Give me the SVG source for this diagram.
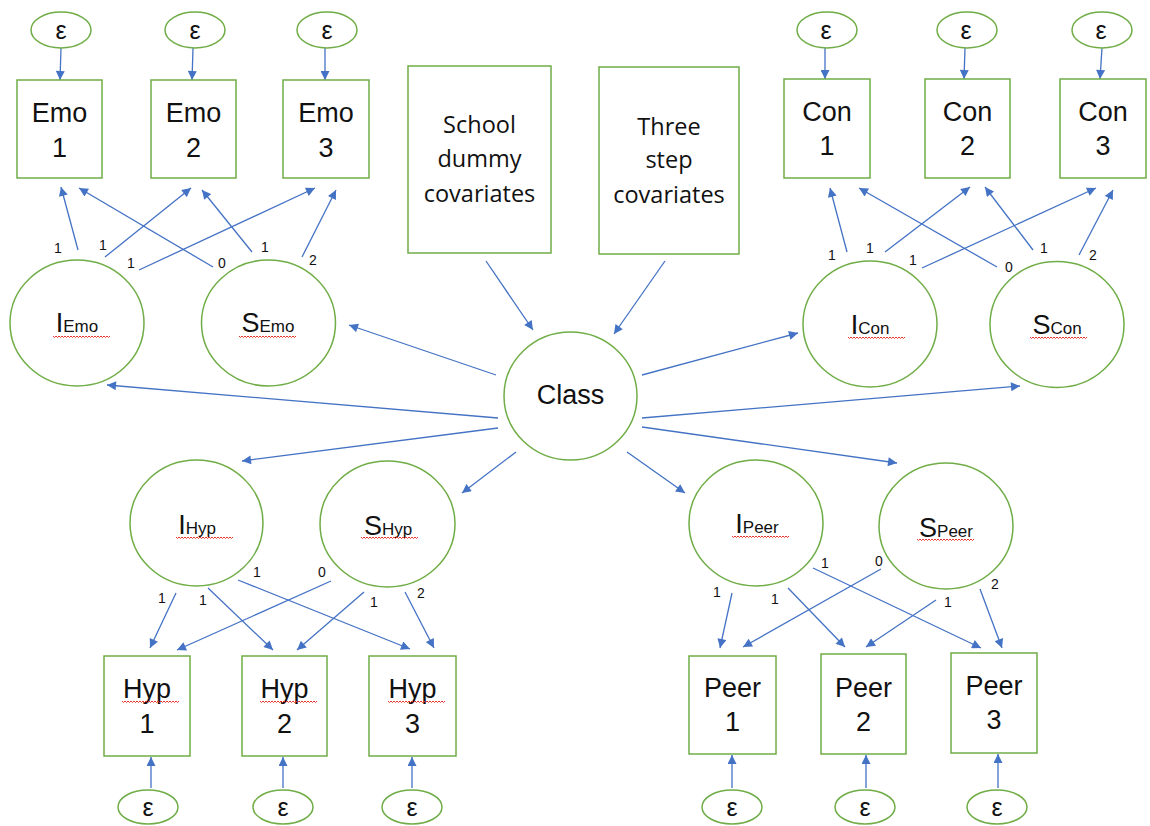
<svg xmlns="http://www.w3.org/2000/svg" width="1150" height="826" viewBox="0 0 1150 826">
<style>
.n{fill:#fff;stroke:#70AD47;stroke-width:1.5}
.c{stroke:#4472C4;stroke-width:1.3;fill:none;marker-end:url(#ah)}
.t{font-family:"Liberation Sans",Arial,sans-serif;fill:#111;text-anchor:middle}
.big{font-size:27px}
.sub{font-size:17px}
.eps{font-size:25px}
.lb{font-family:"Liberation Sans",Arial,sans-serif;font-size:14px;fill:#111;text-anchor:middle}
.cov{font-family:"Open Sans",sans-serif;font-size:23.5px;fill:#111;text-anchor:middle}
.sq{stroke:#E8342F;stroke-width:1;fill:none}
</style>
<defs>
<marker id="ah" viewBox="0 0 10 10" refX="10" refY="5" markerWidth="11" markerHeight="9" markerUnits="userSpaceOnUse" orient="auto"><path d="M0,0 L10,5 L0,10 z" fill="#4472C4"/></marker>
<path id="wv" d="M0,0 l1.5,1.5 l1.5,-1.5 l1.5,1.5 l1.5,-1.5 l1.5,1.5 l1.5,-1.5 l1.5,1.5 l1.5,-1.5 l1.5,1.5 l1.5,-1.5 l1.5,1.5 l1.5,-1.5 l1.5,1.5 l1.5,-1.5 l1.5,1.5 l1.5,-1.5 l1.5,1.5 l1.5,-1.5 l1.5,1.5 l1.5,-1.5 l1.5,1.5 l1.5,-1.5 l1.5,1.5 l1.5,-1.5 l1.5,1.5 l1.5,-1.5 l1.5,1.5 l1.5,-1.5 l1.5,1.5 l1.5,-1.5 l1.5,1.5 l1.5,-1.5 l1.5,1.5 l1.5,-1.5 l1.5,1.5 l1.5,-1.5 l1.5,1.5 l1.5,-1.5" class="sq"/>
</defs>
<rect width="1150" height="826" fill="#fff"/>

<g id="connectors">
<line class="c" x1="61" y1="48" x2="60" y2="80"/>
<line class="c" x1="193" y1="48" x2="192" y2="80"/>
<line class="c" x1="325" y1="48" x2="325" y2="80"/>
<line class="c" x1="825" y1="48" x2="825" y2="79"/>
<line class="c" x1="965" y1="48" x2="964" y2="79"/>
<line class="c" x1="1102" y1="48" x2="1100" y2="79"/>
<line class="c" x1="151" y1="788" x2="151" y2="757"/>
<line class="c" x1="283" y1="788" x2="283" y2="757"/>
<line class="c" x1="412" y1="788" x2="412" y2="757"/>
<line class="c" x1="732" y1="788" x2="732" y2="755"/>
<line class="c" x1="866" y1="788" x2="866" y2="755"/>
<line class="c" x1="998" y1="788" x2="998" y2="754"/>
<line class="c" x1="78" y1="250" x2="61" y2="187"/>
<line class="c" x1="213" y1="267" x2="79" y2="188"/>
<line class="c" x1="105" y1="257" x2="191" y2="188"/>
<line class="c" x1="252" y1="252" x2="202" y2="190"/>
<line class="c" x1="139" y1="270" x2="315" y2="188"/>
<line class="c" x1="302" y1="257" x2="336" y2="190"/>
<line class="c" x1="847" y1="252" x2="830" y2="188"/>
<line class="c" x1="997" y1="267" x2="859" y2="188"/>
<line class="c" x1="885" y1="252" x2="970" y2="187"/>
<line class="c" x1="1033" y1="250" x2="985" y2="187"/>
<line class="c" x1="922" y1="268" x2="1096" y2="188"/>
<line class="c" x1="1079" y1="255" x2="1113" y2="190"/>
<line class="c" x1="176" y1="593" x2="150" y2="648"/>
<line class="c" x1="208" y1="588" x2="273" y2="650"/>
<line class="c" x1="238" y1="580" x2="410" y2="649"/>
<line class="c" x1="331" y1="581" x2="177" y2="650"/>
<line class="c" x1="364" y1="592" x2="297" y2="650"/>
<line class="c" x1="405" y1="592" x2="434" y2="648"/>
<line class="c" x1="732" y1="593" x2="720" y2="648"/>
<line class="c" x1="788" y1="588" x2="845" y2="647"/>
<line class="c" x1="813" y1="568" x2="981" y2="648"/>
<line class="c" x1="881" y1="569" x2="743" y2="647"/>
<line class="c" x1="936" y1="600" x2="866" y2="647"/>
<line class="c" x1="980" y1="589" x2="1002" y2="648"/>
<line class="c" x1="486" y1="261" x2="533" y2="330"/>
<line class="c" x1="665" y1="261" x2="614" y2="334"/>
<line class="c" x1="496" y1="375" x2="349" y2="325"/>
<line class="c" x1="498" y1="418" x2="107" y2="385"/>
<line class="c" x1="498" y1="428" x2="242" y2="461"/>
<line class="c" x1="516" y1="452" x2="462" y2="493"/>
<line class="c" x1="642" y1="375" x2="798" y2="333"/>
<line class="c" x1="642" y1="418" x2="1020" y2="386"/>
<line class="c" x1="642" y1="427" x2="897" y2="463"/>
<line class="c" x1="627" y1="452" x2="685" y2="493"/>
</g>

<g id="loading-labels">
<text class="lb" x="58" y="253">1</text>
<text class="lb" x="103" y="250">1</text>
<text class="lb" x="131" y="268">1</text>
<text class="lb" x="222" y="268">0</text>
<text class="lb" x="265" y="252">1</text>
<text class="lb" x="313" y="265">2</text>
<text class="lb" x="832" y="260">1</text>
<text class="lb" x="870" y="253">1</text>
<text class="lb" x="913" y="265">1</text>
<text class="lb" x="1009" y="272">0</text>
<text class="lb" x="1044" y="253">1</text>
<text class="lb" x="1093" y="260">2</text>
<text class="lb" x="162" y="603">1</text>
<text class="lb" x="203" y="605">1</text>
<text class="lb" x="257" y="577">1</text>
<text class="lb" x="322" y="577">0</text>
<text class="lb" x="374" y="607">1</text>
<text class="lb" x="421" y="598">2</text>
<text class="lb" x="717" y="597">1</text>
<text class="lb" x="775" y="604">1</text>
<text class="lb" x="825" y="568">1</text>
<text class="lb" x="879" y="566">0</text>
<text class="lb" x="948" y="607">1</text>
<text class="lb" x="995" y="589">2</text>
</g>

<g id="eps-emo1"><ellipse class="n" cx="61" cy="30" rx="30" ry="18"/><text class="t eps" x="61" y="39">ε</text></g>
<g id="eps-emo2"><ellipse class="n" cx="195" cy="30" rx="30" ry="18"/><text class="t eps" x="195" y="39">ε</text></g>
<g id="eps-emo3"><ellipse class="n" cx="327" cy="30" rx="30" ry="18"/><text class="t eps" x="327" y="39">ε</text></g>
<g id="eps-con1"><ellipse class="n" cx="827" cy="30" rx="30" ry="18"/><text class="t eps" x="826" y="39">ε</text></g>
<g id="eps-con2"><ellipse class="n" cx="967" cy="30" rx="30" ry="18"/><text class="t eps" x="966" y="39">ε</text></g>
<g id="eps-con3"><ellipse class="n" cx="1102" cy="30" rx="30" ry="18"/><text class="t eps" x="1101" y="39">ε</text></g>

<g id="emo1"><rect class="n" x="17" y="80" width="85" height="98"/><text class="t big" x="59.5" y="122">Emo</text><text class="t big" x="59.5" y="157">1</text></g>
<g id="emo2"><rect class="n" x="151" y="80" width="85" height="98"/><text class="t big" x="193.5" y="122">Emo</text><text class="t big" x="193.5" y="157">2</text></g>
<g id="emo3"><rect class="n" x="283" y="80" width="86" height="98"/><text class="t big" x="326" y="122">Emo</text><text class="t big" x="326" y="157">3</text></g>

<g id="con1"><rect class="n" x="784" y="79" width="86" height="99"/><text class="t big" x="827" y="121">Con</text><text class="t big" x="827" y="155">1</text></g>
<g id="con2"><rect class="n" x="925" y="79" width="85" height="99"/><text class="t big" x="967.5" y="121">Con</text><text class="t big" x="967.5" y="155">2</text></g>
<g id="con3"><rect class="n" x="1060" y="79" width="86" height="99"/><text class="t big" x="1103" y="121">Con</text><text class="t big" x="1103" y="155">3</text></g>

<g id="school"><rect class="n" x="408" y="66" width="143" height="187"/><text class="cov" x="479.5" y="133">School</text><text class="cov" x="479.5" y="167">dummy</text><text class="cov" x="479.5" y="202">covariates</text></g>
<g id="threestep"><rect class="n" x="599" y="67" width="140" height="187"/><text class="cov" x="669" y="135">Three</text><text class="cov" x="669" y="168">step</text><text class="cov" x="669" y="203">covariates</text></g>

<g id="iemo"><ellipse class="n" cx="77" cy="323" rx="67" ry="63"/><text class="t" x="77" y="332"><tspan class="big">I</tspan><tspan class="sub">Emo</tspan></text><use href="#wv" x="53" y="336"/></g>
<g id="semo"><ellipse class="n" cx="268.5" cy="323" rx="67" ry="63"/><text class="t" x="268" y="332"><tspan class="big">S</tspan><tspan class="sub">Emo</tspan></text><use href="#wv" x="239" y="336"/></g>

<g id="icon"><ellipse class="n" cx="870" cy="324" rx="67" ry="63"/><text class="t" x="870" y="334"><tspan class="big">I</tspan><tspan class="sub">Con</tspan></text><use href="#wv" x="848" y="337"/></g>
<g id="scon"><ellipse class="n" cx="1057" cy="324.5" rx="67" ry="63"/><text class="t" x="1057" y="334"><tspan class="big">S</tspan><tspan class="sub">Con</tspan></text><use href="#wv" x="1030" y="337"/></g>

<g id="class"><ellipse class="n" cx="570.5" cy="396" rx="66.5" ry="64"/><text class="t big" x="570.5" y="404">Class</text></g>

<g id="ihyp"><ellipse class="n" cx="196.5" cy="523" rx="66.5" ry="63"/><text class="t" x="197" y="534"><tspan class="big">I</tspan><tspan class="sub">Hyp</tspan></text><use href="#wv" x="176" y="537"/></g>
<g id="shyp"><ellipse class="n" cx="387.5" cy="524" rx="67.5" ry="63"/><text class="t" x="388" y="535"><tspan class="big">S</tspan><tspan class="sub">Hyp</tspan></text><use href="#wv" x="361" y="537"/></g>

<g id="ipeer"><ellipse class="n" cx="756" cy="523" rx="67" ry="63"/><text class="t" x="757" y="533"><tspan class="big">I</tspan><tspan class="sub">Peer</tspan></text><use href="#wv" x="732" y="536"/></g>
<g id="speer"><ellipse class="n" cx="946" cy="526" rx="67" ry="63"/><text class="t" x="946" y="537"><tspan class="big">S</tspan><tspan class="sub">Peer</tspan></text><use href="#wv" x="917" y="539"/></g>

<g id="hyp1"><rect class="n" x="104" y="656" width="86" height="100"/><text class="t big" x="147" y="698">Hyp</text><use href="#wv" x="122" y="701"/><text class="t big" x="147" y="733">1</text></g>
<g id="hyp2"><rect class="n" x="242" y="656" width="85" height="100"/><text class="t big" x="284.5" y="698">Hyp</text><use href="#wv" x="260" y="701"/><text class="t big" x="284.5" y="733">2</text></g>
<g id="hyp3"><rect class="n" x="369" y="656" width="87" height="100"/><text class="t big" x="412.5" y="698">Hyp</text><use href="#wv" x="388" y="701"/><text class="t big" x="412.5" y="733">3</text></g>

<g id="peer1"><rect class="n" x="689" y="656" width="87" height="98"/><text class="t big" x="732.5" y="697">Peer</text><text class="t big" x="732.5" y="731">1</text></g>
<g id="peer2"><rect class="n" x="821" y="654" width="85" height="100"/><text class="t big" x="863.5" y="697">Peer</text><text class="t big" x="863.5" y="731">2</text></g>
<g id="peer3"><rect class="n" x="951" y="653" width="86" height="100"/><text class="t big" x="994" y="695">Peer</text><text class="t big" x="994" y="729">3</text></g>

<g id="eps-hyp1"><ellipse class="n" cx="148" cy="807" rx="30" ry="17"/><text class="t eps" x="148" y="816">ε</text></g>
<g id="eps-hyp2"><ellipse class="n" cx="283" cy="807" rx="30" ry="17"/><text class="t eps" x="283" y="816">ε</text></g>
<g id="eps-hyp3"><ellipse class="n" cx="412" cy="807" rx="30" ry="17"/><text class="t eps" x="412" y="816">ε</text></g>
<g id="eps-peer1"><ellipse class="n" cx="732" cy="807" rx="30" ry="17"/><text class="t eps" x="732" y="816">ε</text></g>
<g id="eps-peer2"><ellipse class="n" cx="865" cy="807" rx="30" ry="17"/><text class="t eps" x="865" y="816">ε</text></g>
<g id="eps-peer3"><ellipse class="n" cx="997" cy="807" rx="30" ry="17"/><text class="t eps" x="997" y="816">ε</text></g>
</svg>
